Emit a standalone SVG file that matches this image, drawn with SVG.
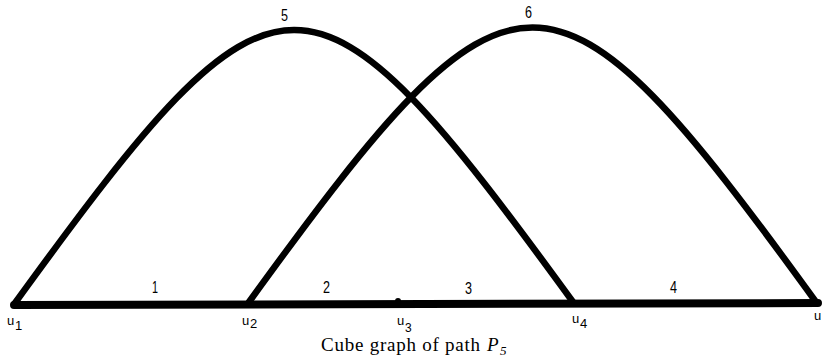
<svg xmlns="http://www.w3.org/2000/svg" width="822" height="361" viewBox="0 0 822 361">
<style>
.edge{fill:none;stroke:#000;stroke-linecap:round;stroke-linejoin:round}
.arc{stroke-width:6.5}
.base{stroke-width:8}
.lbl{font-family:"Liberation Sans",Arial,sans-serif;font-size:16px;fill:#000}
.nl{font-family:"Liberation Sans",Arial,sans-serif;font-size:13px;fill:#000}
.cap{font-family:"Liberation Serif","Times New Roman",serif;font-size:19px;fill:#000}
</style>
<rect width="822" height="361" fill="#fff"/>
<g id="connectors">
  <path class="edge base" d="M14,305 L818,303"/>
  <path class="edge arc" d="M15,303 C279,-60.8 309,-60.8 573,302"/>
  <path class="edge arc" d="M249,302 C514,-64 551,-64 816,302"/>
  <text class="lbl" x="152" y="293" textLength="6" lengthAdjust="spacingAndGlyphs">1</text>
  <text class="lbl" x="323" y="293" textLength="7" lengthAdjust="spacingAndGlyphs">2</text>
  <text class="lbl" x="465" y="294" textLength="7" lengthAdjust="spacingAndGlyphs">3</text>
  <text class="lbl" x="670" y="293" textLength="7" lengthAdjust="spacingAndGlyphs">4</text>
  <text class="lbl" x="281" y="21" textLength="7" lengthAdjust="spacingAndGlyphs">5</text>
  <text class="lbl" x="525" y="18" textLength="7" lengthAdjust="spacingAndGlyphs">6</text>
</g>
<g id="u1">
  <text class="nl" x="7" y="325">u<tspan x="15" dy="5">1</tspan></text>
</g>
<g id="u2">
  <text class="nl" x="242" y="325">u<tspan x="250" dy="3">2</tspan></text>
</g>
<g id="u3">
  <circle cx="398" cy="301" r="3" fill="#000"/>
  <text class="nl" x="397" y="325">u<tspan x="405" dy="7" font-size="12">3</tspan></text>
</g>
<g id="u4">
  <text class="nl" x="572" y="323">u<tspan x="580" dy="5">4</tspan></text>
</g>
<g id="u5">
  <text class="nl" x="814" y="320">u</text>
</g>
<g id="caption">
  <text class="cap" x="321" y="351">
    <tspan textLength="159" lengthAdjust="spacing">Cube graph of path</tspan><tspan x="487" font-style="italic">P</tspan><tspan x="500" dy="4" font-style="italic" font-size="13">5</tspan>
  </text>
</g>
</svg>
